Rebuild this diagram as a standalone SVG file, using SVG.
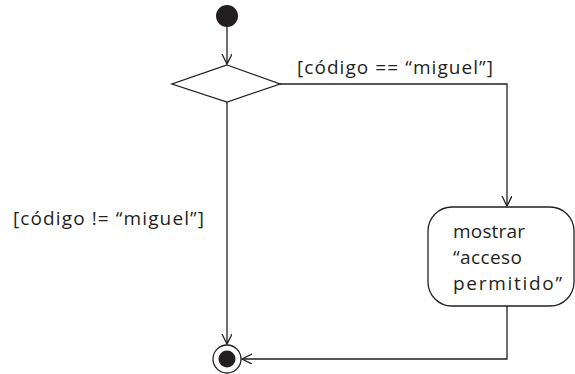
<svg xmlns="http://www.w3.org/2000/svg" width="575" height="374" viewBox="0 0 575 374">
<style>
.ln{fill:none;stroke:#231f20;stroke-width:1.3}
.ah{fill:none;stroke:#231f20;stroke-width:1.3}
.t{font-family:"Open Sans","Noto Sans",sans-serif;font-size:19px;fill:#231f20}
</style>
<defs>
<marker id="arr" markerWidth="12" markerHeight="12" refX="10" refY="5" orient="auto" markerUnits="userSpaceOnUse">
<polyline points="0,0 10,5 0,10" class="ah"/>
</marker>
</defs>
<g id="connectors">
<line class="ln" x1="227" y1="27" x2="227" y2="64" marker-end="url(#arr)"/>
<polyline class="ln" points="280,84 507,84 507,206" marker-end="url(#arr)"/>
<line class="ln" x1="227" y1="102" x2="227" y2="344" marker-end="url(#arr)"/>
<polyline class="ln" points="507,306 507,359 242,359" marker-end="url(#arr)"/>
<text class="t" x="297" y="74" textLength="196" lengthAdjust="spacing">[código == “miguel”]</text>
<text class="t" x="13" y="225" textLength="191" lengthAdjust="spacing">[código != “miguel”]</text>
</g>
<g id="start"><circle cx="227" cy="16" r="11" fill="#231f20"/></g>
<g id="decision"><polygon class="ln" points="227,65 280,84 227,102 172,84" fill="#fff"/></g>
<g id="action">
<rect class="ln" x="428" y="207" width="146" height="99" rx="24" ry="24" fill="#fff"/>
<text class="t" x="453" y="238" textLength="72" lengthAdjust="spacing">mostrar</text>
<text class="t" x="453" y="264" textLength="69" lengthAdjust="spacing">“acceso</text>
<text class="t" x="453" y="290" textLength="109" lengthAdjust="spacing">permitido”</text>
</g>
<g id="end">
<circle cx="227" cy="359" r="14" fill="#fff" stroke="#231f20" stroke-width="1.3"/>
<circle cx="227" cy="359" r="8.5" fill="#231f20"/>
</g>
</svg>
